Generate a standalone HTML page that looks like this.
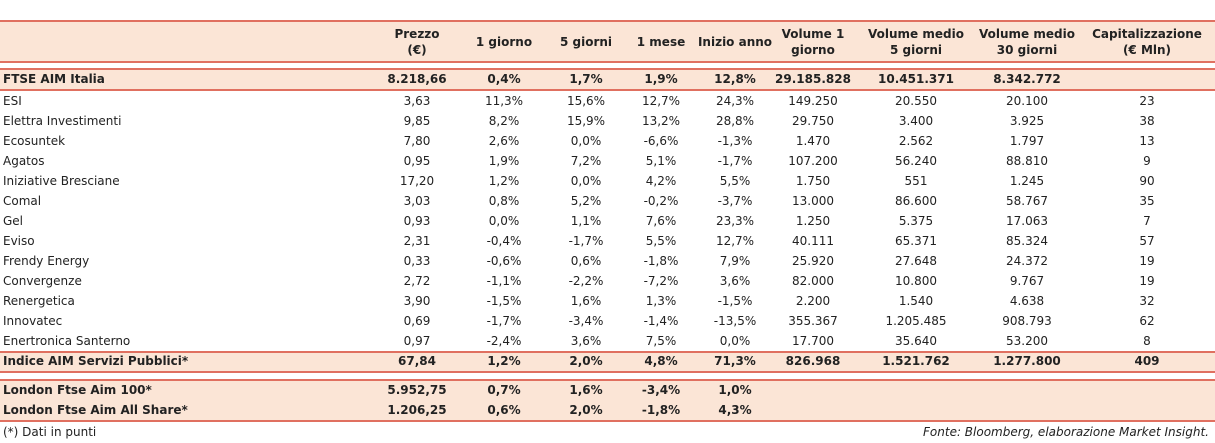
<!DOCTYPE html>
<html><head><meta charset="utf-8">
<style>
body{margin:0;width:1215px;height:443px;background:#fff;font-family:"DejaVu Sans","Liberation Sans",sans-serif;color:#222;position:relative;overflow:hidden}
.bg{position:absolute;left:0;width:1215px;background:#fbe5d6}
.ln{position:absolute;left:0;width:1215px;height:2px;background:#e07060}
.t{position:absolute;font-size:12px;white-space:nowrap;line-height:14px}
.c{transform:translateX(-50%);text-align:center}
.b{font-weight:bold}
</style></head><body>
<div class="bg" style="top:21px;height:41px"></div>
<div class="bg" style="top:69px;height:21px"></div>
<div class="bg" style="top:352px;height:20px"></div>
<div class="bg" style="top:380px;height:41px"></div>
<div class="ln" style="top:20px"></div>
<div class="ln" style="top:61px"></div>
<div class="ln" style="top:68px"></div>
<div class="ln" style="top:89px"></div>
<div class="ln" style="top:351px"></div>
<div class="ln" style="top:371px"></div>
<div class="ln" style="top:379px"></div>
<div class="ln" style="top:420px"></div>
<div class="t" style="left:3px;top:425px;font-size:12px">(*) Dati in punti</div>
<div class="t" style="right:6px;top:425px;font-style:italic">Fonte: Bloomberg, elaborazione Market Insight.</div>
<script>
const centers=[417,504,586,661,735,813,916,1027,1147];
const headers=[["Prezzo","(€)"],["1 giorno"],["5 giorni"],["1 mese"],["Inizio anno"],["Volume 1","giorno"],["Volume medio","5 giorni"],["Volume medio","30 giorni"],["Capitalizzazione","(€ Mln)"]];
const rows=[
["FTSE AIM Italia","8.218,66","0,4%","1,7%","1,9%","12,8%","29.185.828","10.451.371","8.342.772",""],
["ESI","3,63","11,3%","15,6%","12,7%","24,3%","149.250","20.550","20.100","23"],
["Elettra Investimenti","9,85","8,2%","15,9%","13,2%","28,8%","29.750","3.400","3.925","38"],
["Ecosuntek","7,80","2,6%","0,0%","-6,6%","-1,3%","1.470","2.562","1.797","13"],
["Agatos","0,95","1,9%","7,2%","5,1%","-1,7%","107.200","56.240","88.810","9"],
["Iniziative Bresciane","17,20","1,2%","0,0%","4,2%","5,5%","1.750","551","1.245","90"],
["Comal","3,03","0,8%","5,2%","-0,2%","-3,7%","13.000","86.600","58.767","35"],
["Gel","0,93","0,0%","1,1%","7,6%","23,3%","1.250","5.375","17.063","7"],
["Eviso","2,31","-0,4%","-1,7%","5,5%","12,7%","40.111","65.371","85.324","57"],
["Frendy Energy","0,33","-0,6%","0,6%","-1,8%","7,9%","25.920","27.648","24.372","19"],
["Convergenze","2,72","-1,1%","-2,2%","-7,2%","3,6%","82.000","10.800","9.767","19"],
["Renergetica","3,90","-1,5%","1,6%","1,3%","-1,5%","2.200","1.540","4.638","32"],
["Innovatec","0,69","-1,7%","-3,4%","-1,4%","-13,5%","355.367","1.205.485","908.793","62"],
["Enertronica Santerno","0,97","-2,4%","3,6%","7,5%","0,0%","17.700","35.640","53.200","8"],
["Indice AIM Servizi Pubblici*","67,84","1,2%","2,0%","4,8%","71,3%","826.968","1.521.762","1.277.800","409"],
["London Ftse Aim 100*","5.952,75","0,7%","1,6%","-3,4%","1,0%","","","",""],
["London Ftse Aim All Share*","1.206,25","0,6%","2,0%","-1,8%","4,3%","","","",""]];
const tops=[72,94,114,134,154,174,194,214,234,254,274,294,314,334,354,383,403];
const bold=[1,0,0,0,0,0,0,0,0,0,0,0,0,0,1,1,1];
headers.forEach((h,i)=>{
 const d=document.createElement('div');
 d.className='t c b';
 
 
 d.style.left=centers[i]+'px';
 d.style.top=(h.length>1?26:34)+'px';
 d.style.lineHeight='16px';
 d.innerHTML=h.join('<br>');
 document.body.appendChild(d);
});
rows.forEach((r,ri)=>{
 r.forEach((v,ci)=>{
  if(v==='')return;
  const d=document.createElement('div');
  d.className='t'+(ci>0?' c':'')+(bold[ri]?' b':'');
  
  
  d.style.left=(ci===0?3:centers[ci-1])+'px';
  d.style.top=tops[ri]+'px';
  d.textContent=v;
  document.body.appendChild(d);
 });
});
</script>
</body></html>
